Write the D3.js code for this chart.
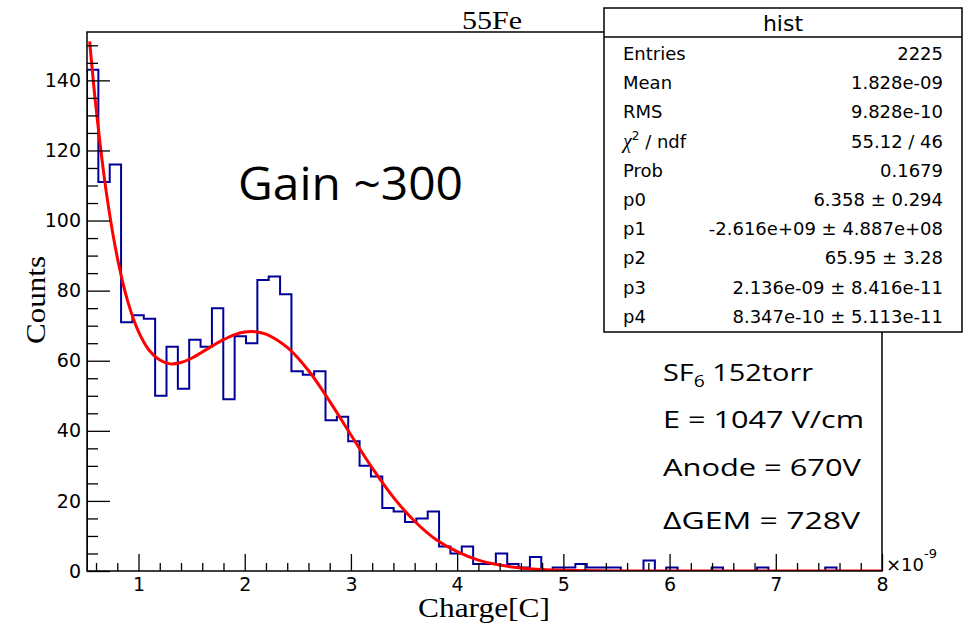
<!DOCTYPE html>
<html>
<head>
<meta charset="utf-8">
<script src="https://cdn.jsdelivr.net/npm/d3@7/dist/d3.min.js"></script>
<style>
  html, body { margin: 0; padding: 0; background: #fff; }
  svg { display: block; }
</style>
</head>
<body>
<div id="chart"></div>
<script>
// histogram: 70 bins from 0.515e-9 to 8e-9 C
var binLow = 0.515, binHigh = 8, nBins = 70;
var counts = [143,111,116,71,73,72,50,64,52,66,
              64,75,49,67,65,83,84,79,57,56,
              57,43,44,37,30,27,18,17,14,15,
              17,7,5,7,2,2,5,2,1,4,
              0,1,1,2,1,1,1,0,0,3,
              0,1,0,0,0,1,0,0,0,1,
              0,0,0,0,0,1,0,0,0,0];

// fitted curve
var fitX = [0.54,0.6,0.7,0.8,0.9,1.0,1.1,1.2,1.3,1.4,1.5,1.6,1.7,1.8,1.9,2.0,2.1,2.2,2.4,2.6,2.8,3.0,3.2,3.4,3.6,3.8,4.0,4.2,4.4,4.6,4.8,5.0,5.5,6.0,7.0,8.0];
var fitY = [151.1,132.2,107.4,89.5,76.8,68.3,63.0,60.2,59.1,59.5,60.7,62.5,64.3,66.0,67.4,68.2,68.3,67.6,63.8,57.2,48.4,38.8,29.4,21.0,14.2,9.0,5.5,3.1,1.7,0.85,0.4,0.18,0.02,0,0,0];

var xMajor = [1,2,3,4,5,6,7,8];
var yMajor = [0,20,40,60,80,100,120,140];

var statLabels = ["Entries","Mean","RMS","chi2","Prob","p0","p1","p2","p3","p4"];
var statValues = ["2225","1.828e-09","9.828e-10","55.12 / 46","0.1679","6.358 \u00b1 0.294",
                  "-2.616e+09 \u00b1 4.887e+08","65.95 \u00b1 3.28","2.136e-09 \u00b1 8.416e-11",
                  "8.347e-10 \u00b1 5.113e-11"];

var notes = ["SF6 152torr","E = 1047 V/cm","Anode = 670V","\u0394GEM = 728V"];

var width = 968, height = 628;
var fL = 87, fR = 882, fT = 32, fB = 571;
var sans = "DejaVu Sans";
var serif = "Liberation Serif";

var svg = d3.select("#chart").append("svg")
  .attr("width", width)
  .attr("height", height);

var x = d3.scaleLinear().domain([binLow, binHigh]).range([fL, fR]);
var y = d3.scaleLinear().domain([0, 153.8]).range([fB, fT]);

svg.append("defs").append("clipPath").attr("id", "frame")
  .append("rect").attr("x", fL).attr("y", fT)
  .attr("width", fR - fL).attr("height", fB - fT);

// histogram outline
var bw = (binHigh - binLow) / nBins;
var pts = [[binLow, 0]];
counts.forEach(function(c, i) {
  pts.push([binLow + i * bw, c]);
  pts.push([binLow + (i + 1) * bw, c]);
});
pts.push([binHigh, 0]);

var line = d3.line().x(function(d) { return x(d[0]); }).y(function(d) { return y(d[1]); });

svg.append("path")
  .attr("clip-path", "url(#frame)")
  .attr("d", line(pts))
  .attr("fill", "none")
  .attr("stroke", "#000099")
  .attr("stroke-width", 2);

// fit
var fitLine = d3.line().x(function(d) { return x(d[0]); }).y(function(d) { return y(d[1]); })
  .curve(d3.curveCatmullRom.alpha(0.5));
svg.append("path")
  .attr("clip-path", "url(#frame)")
  .attr("d", fitLine(fitX.map(function(v, i) { return [v, fitY[i]]; })))
  .attr("fill", "none")
  .attr("stroke", "#ff0000")
  .attr("stroke-width", 3);

// axes, ticks point inwards
var xMinor = d3.range(3, 40).map(function(i) { return i * 0.2; }).filter(function(v) { return Math.abs(v - Math.round(v)) > 1e-6; });
var yMinor = d3.range(1, 31).map(function(i) { return i * 5; }).filter(function(v) { return v % 20 != 0; });

function styleAxis(g) {
  g.select(".domain").remove();
  g.selectAll("line").attr("stroke", "#000").attr("stroke-width", 1.3);
  g.selectAll("text").attr("font-family", sans).attr("font-size", 19).attr("fill", "#000");
}

svg.append("g").attr("transform", "translate(0," + fB + ")")
  .call(d3.axisBottom(x).tickValues(xMinor).tickSize(-8).tickFormat(""))
  .call(styleAxis);
svg.append("g").attr("transform", "translate(0," + fB + ")")
  .call(d3.axisBottom(x).tickValues(xMajor).tickSize(-17).tickPadding(7).tickFormat(d3.format("d")))
  .call(styleAxis);

svg.append("g").attr("transform", "translate(" + fL + ",0)")
  .call(d3.axisLeft(y).tickValues(yMinor).tickSize(-11).tickFormat(""))
  .call(styleAxis);
svg.append("g").attr("transform", "translate(" + fL + ",0)")
  .call(d3.axisLeft(y).tickValues(yMajor).tickSize(-23).tickPadding(6).tickFormat(d3.format("d")))
  .call(styleAxis);

// frame
svg.append("rect")
  .attr("x", fL).attr("y", fT)
  .attr("width", fR - fL).attr("height", fB - fT)
  .attr("fill", "none").attr("stroke", "#000").attr("stroke-width", 1.5);

// exponent
var ex = svg.append("text").attr("x", 886).attr("y", 571)
  .attr("font-family", sans).attr("font-size", 18);
ex.append("tspan").text("\u00d710");
ex.append("tspan").attr("dy", -13).attr("font-size", 13).text("-9");

// titles
svg.append("text").attr("x", 492).attr("y", 29)
  .attr("text-anchor", "middle").attr("font-family", serif).attr("font-size", 25)
  .attr("textLength", 60).attr("lengthAdjust", "spacingAndGlyphs")
  .text("55Fe");

svg.append("text").attr("x", 484).attr("y", 617)
  .attr("text-anchor", "middle").attr("font-family", serif).attr("font-size", 28)
  .attr("textLength", 132).attr("lengthAdjust", "spacingAndGlyphs")
  .text("Charge[C]");

svg.append("text")
  .attr("transform", "translate(45,300) rotate(-90)")
  .attr("text-anchor", "middle").attr("font-family", serif).attr("font-size", 28)
  .attr("textLength", 88).attr("lengthAdjust", "spacingAndGlyphs")
  .text("Counts");

// annotations
svg.append("text").attr("x", 238).attr("y", 200)
  .attr("font-family", "Open Sans").attr("font-size", 46)
  .attr("textLength", 225).attr("lengthAdjust", "spacingAndGlyphs")
  .text("Gain ~300");

var noteLen = [150, 201, 198, 197];
var noteBase = [381, 428, 476, 529];
notes.forEach(function(s, i) {
  var t = svg.append("text").attr("x", 663).attr("y", noteBase[i])
    .attr("font-family", "Open Sans").attr("font-size", 24)
    .attr("textLength", noteLen[i]).attr("lengthAdjust", "spacingAndGlyphs");
  if (s.indexOf("SF6") == 0) {
    t.append("tspan").text("SF");
    t.append("tspan").attr("dy", 6).attr("font-size", 16).text("6");
    t.append("tspan").attr("dy", -6).text(s.slice(3));
  } else {
    t.text(s);
  }
});

// stats box
var box = svg.append("g");
box.append("rect").attr("x", 604).attr("y", 8).attr("width", 358).attr("height", 324)
  .attr("fill", "#fff").attr("stroke", "#000").attr("stroke-width", 1.5);
box.append("line").attr("x1", 604).attr("x2", 962).attr("y1", 37).attr("y2", 37)
  .attr("stroke", "#000").attr("stroke-width", 1.5);
box.append("text").attr("x", 783).attr("y", 31).attr("text-anchor", "middle")
  .attr("font-family", sans).attr("font-size", 22).text("hist");

statLabels.forEach(function(s, i) {
  var yy = 60 + i * 29.2;
  var t = box.append("text").attr("x", 623).attr("y", yy)
    .attr("font-family", sans).attr("font-size", 18);
  if (s == "chi2") {
    t.append("tspan").attr("font-family", serif).attr("font-style", "italic").attr("font-size", 20).text("\u03c7");
    t.append("tspan").attr("dy", -8).attr("font-size", 12).text("2");
    t.append("tspan").attr("dy", 8).text(" / ndf");
  } else {
    t.text(s);
  }
  box.append("text").attr("x", 943).attr("y", yy).attr("text-anchor", "end")
    .attr("font-family", sans).attr("font-size", 18).text(statValues[i]);
});
</script>
</body>
</html>
